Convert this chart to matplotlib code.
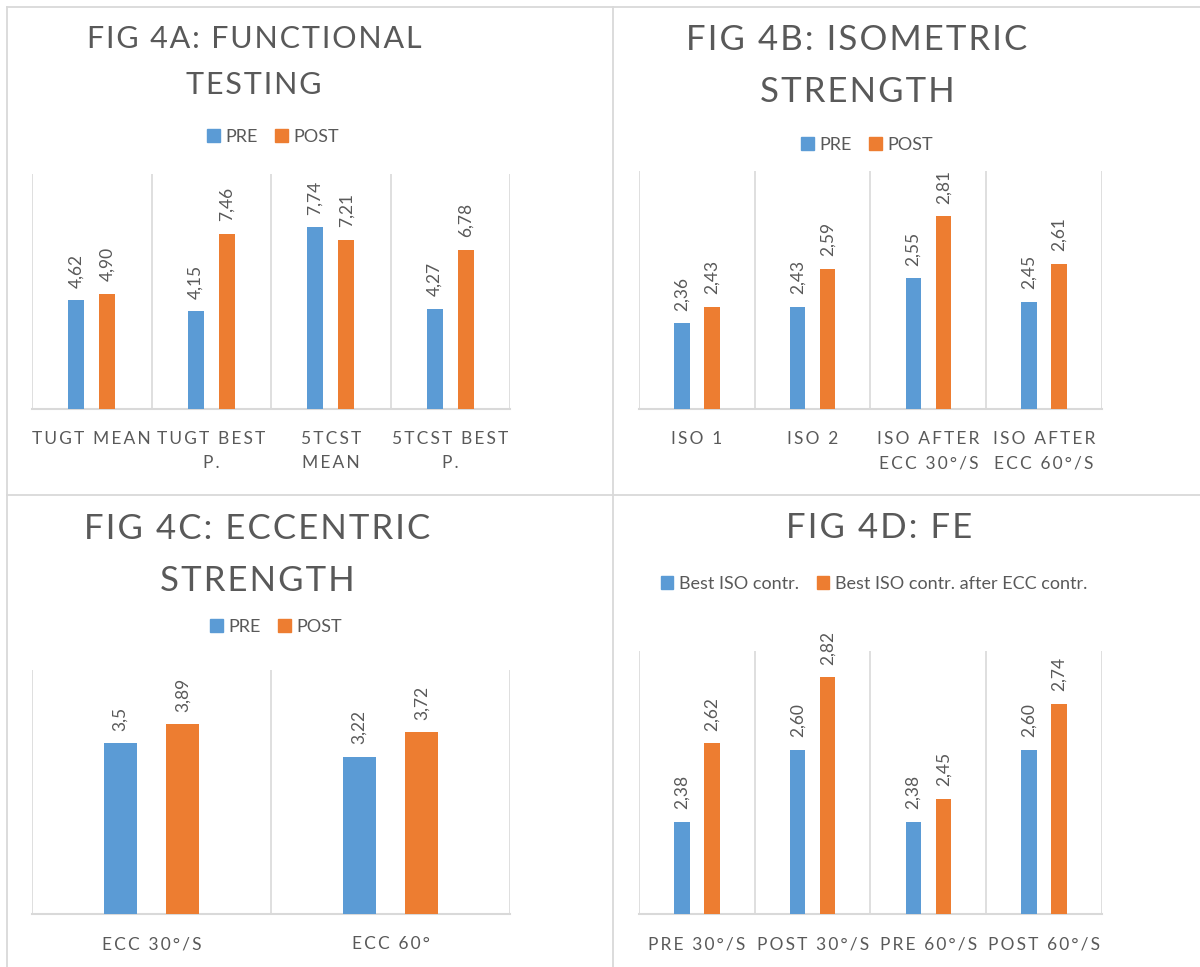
import matplotlib
matplotlib.use("Agg")
import matplotlib.pyplot as plt
from matplotlib.lines import Line2D
from matplotlib.patches import Patch
import numpy as np

W, H = 1200, 967
BLUE = "#5B9BD5"
ORANGE = "#ED7D31"
TEXT = "#595959"
GRID = "#D9D9D9"

plt.rcParams["font.family"] = ["Lato", "DejaVu Sans"]

# --- Fig 4A: functional testing ---
FUNC_CATS = ["TUGT MEAN", "TUGT BEST\nP.", "5TCST\nMEAN", "5TCST BEST\nP."]
FUNC_PRE = [4.62, 4.15, 7.74, 4.27]
FUNC_POST = [4.90, 7.46, 7.21, 6.78]

# --- Fig 4B: isometric strength ---
ISO_CATS = ["ISO 1", "ISO 2", "ISO AFTER\nECC 30°/S", "ISO AFTER\nECC 60°/S"]
ISO_PRE = [2.36, 2.43, 2.55, 2.45]
ISO_POST = [2.43, 2.59, 2.81, 2.61]

# --- Fig 4C: eccentric strength ---
ECC_CATS = ["ECC 30°/S", "ECC 60°"]
ECC_PRE = [3.5, 3.22]
ECC_POST = [3.89, 3.72]

# --- Fig 4D: FE ---
FE_CATS = ["PRE 30°/S", "POST 30°/S", "PRE 60°/S", "POST 60°/S"]
FE_BEST = [2.38, 2.60, 2.38, 2.60]
FE_AFTER = [2.62, 2.82, 2.45, 2.74]

PREPOST = ["PRE", "POST"]
FE_SERIES = ["Best ISO contr.", "Best ISO contr. after ECC contr."]


def spaced(s, sep="\u200a"):
    """Fake Excel's expanded character spacing."""
    return "\n".join(sep.join(line) for line in s.split("\n"))


def px_rect(x0, y0, x1, y1):
    return [x0 / W, 1 - y1 / H, (x1 - x0) / W, (y1 - y0) / H]


def fig_xy(x, y):
    return x / W, 1 - y / H


def panel(fig, rect, cats, s1, s2, ylim, fmt):
    ax = fig.add_axes(px_rect(*rect))
    x = np.arange(len(cats))
    ax.bar(x - 0.13, s1, 0.135, color=BLUE, zorder=3)
    ax.bar(x + 0.13, s2, 0.135, color=ORANGE, zorder=3)
    for xs, vals in ((x - 0.13, s1), (x + 0.13, s2)):
        for xi, v in zip(xs, vals):
            ax.annotate(fmt(v), (xi, v), xytext=(0, 9), textcoords="offset points",
                        rotation=90, ha="center", va="bottom", color=TEXT,
                        fontsize=12.5)
    for b in np.arange(len(cats) + 1) - 0.5:
        ax.axvline(b, color=GRID, lw=1.2, zorder=1)
    ax.set_xlim(-0.5, len(cats) - 0.5)
    ax.set_ylim(*ylim)
    ax.set_yticks([])
    ax.set_xticks(x)
    ax.set_xticklabels([spaced(c, "\u2009") for c in cats], fontsize=12.5,
                       color=TEXT, linespacing=1.6)
    ax.tick_params(axis="x", length=0, pad=16)
    for side in ("top", "left", "right"):
        ax.spines[side].set_visible(False)
    ax.spines["bottom"].set_color(GRID)
    ax.spines["bottom"].set_linewidth(1.5)
    ax.patch.set_alpha(0)
    return ax


def title(fig, text, x, y, size):
    fig.text(*fig_xy(x, y), spaced(text), ha="center", va="center",
             fontsize=size, color=TEXT, linespacing=1.77)


def legend(fig, labels, x, y, size):
    handles = [Patch(color=BLUE), Patch(color=ORANGE)]
    fig.legend(handles, labels, loc="center", bbox_to_anchor=fig_xy(x, y),
               ncol=2, frameon=False, fontsize=size, labelcolor=TEXT,
               handlelength=0.7, handleheight=0.7, handletextpad=0.3,
               columnspacing=1.0)


fig = plt.figure(figsize=(W / 100, H / 100), dpi=100)

# panel borders
for xs, ys in (([7, W], [7, 7]), ([7, W], [495, 495]),
               ([7, 7], [7, H]), ([613, 613], [7, H])):
    fig.add_artist(Line2D([x / W for x in xs], [1 - y / H for y in ys],
                          color=GRID, lw=1.3))

two = lambda v: f"{v:.2f}".replace(".", ",")
gen = lambda v: f"{v:g}".replace(".", ",")

panel(fig, (32, 174, 510, 409), FUNC_CATS, FUNC_PRE, FUNC_POST, (0, 10), two)
title(fig, "FIG 4A: FUNCTIONAL\nTESTING", 254, 62, 22)
legend(fig, PREPOST, 273, 137, 13)

panel(fig, (639, 171, 1102, 409), ISO_CATS, ISO_PRE, ISO_POST, (2.0, 3.0), two)
title(fig, "FIG 4B: ISOMETRIC\nSTRENGTH", 857, 66, 25)
legend(fig, PREPOST, 867, 145, 13)

panel(fig, (32, 670, 510, 914), ECC_CATS, ECC_PRE, ECC_POST, (0, 5), gen)
title(fig, "FIG 4C: ECCENTRIC\nSTRENGTH", 257, 555, 25)
legend(fig, PREPOST, 276, 627, 13)

panel(fig, (639, 651, 1102, 914), FE_CATS, FE_BEST, FE_AFTER, (2.1, 2.9), two)
title(fig, "FIG 4D: FE", 879, 528, 25)
legend(fig, FE_SERIES, 874, 584, 13)

fig.savefig("out.png", dpi=100, facecolor="white")
